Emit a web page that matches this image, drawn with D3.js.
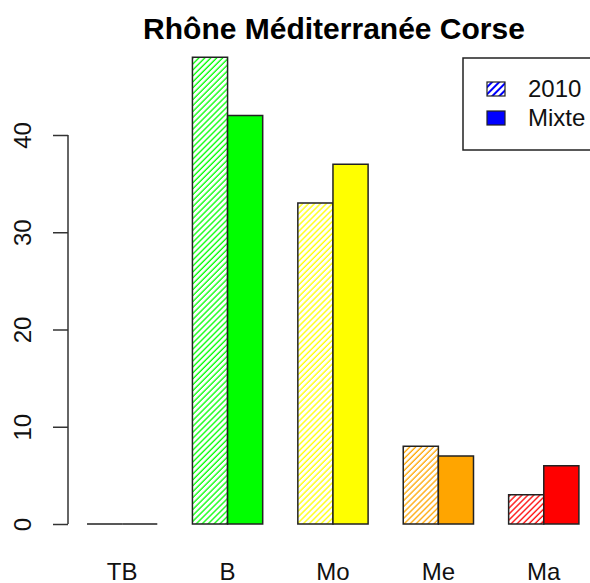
<!DOCTYPE html>
<html>
<head>
<meta charset="utf-8">
<script src="https://cdn.jsdelivr.net/npm/d3@7/dist/d3.min.js"></script>
<style>
  html, body { margin: 0; padding: 0; background: #fff; }
  svg { display: block; font-family: "Liberation Sans", Arial, Helvetica, sans-serif; }
</style>
</head>
<body>
<svg id="chart" width="590" height="583"></svg>
<script>
// Grouped bars per quality class: hatched = 2010, solid = Mixte
const categories = ["TB", "B", "Mo", "Me", "Ma"];
const values2010 = [0, 48, 33, 8, 3];
const valuesMixte = [0, 42, 37, 7, 6];
const barColors = ["#0000ff", "#00ff00", "#ffff00", "#ffa500", "#ff0000"];
const yTicks = [0, 10, 20, 30, 40];
const seriesNames = ["2010", "Mixte"];
const legendColor = "#0000ff";
const title = "Rhône Méditerranée Corse";

const svg = d3.select("#chart");
const defs = svg.append("defs");

// Bar positions in bar-width units: each group is 2 bars preceded by a 1-unit gap
const x = d3.scaleLinear().domain([0, 15]).range([51.9, 578.9]);
const y = d3.scaleLinear().domain([0, 40]).range([524, 135]);

function hatch(id, color, w, sw) {
  const p = defs.append("pattern")
    .attr("id", id)
    .attr("patternUnits", "userSpaceOnUse")
    .attr("width", w).attr("height", 10)
    .attr("patternTransform", "rotate(45)");
  p.append("line")
    .attr("x1", 1).attr("y1", 0).attr("x2", 1).attr("y2", 10)
    .attr("stroke", color).attr("stroke-width", sw);
}
barColors.forEach((c, i) => hatch("h" + i, c, 4.2, 1.3));
hatch("hl", legendColor, 5, 2);

// outline drawn as a path so zero-height bars still show as a line
function outline(x0, x1, v) {
  return `M${x0},${y(0)}H${x1}V${y(v)}H${x0}Z`;
}

// Title
svg.append("text")
  .attr("x", 334).attr("y", 39)
  .attr("text-anchor", "middle")
  .attr("font-weight", "bold")
  .attr("font-size", 30)
  .attr("fill", "#000")
  .text(title);

const groups = categories.map((c, i) => ({
  cat: c, i, v2010: values2010[i], vMixte: valuesMixte[i], start: 1 + i * 3
}));

const g = svg.append("g");
groups.forEach(d => {
  const a = x(d.start), b = x(d.start + 1), c = x(d.start + 2);
  // hatched 2010 bar
  g.append("rect")
    .attr("x", a).attr("width", b - a)
    .attr("y", y(d.v2010)).attr("height", y(0) - y(d.v2010))
    .attr("fill", "url(#h" + d.i + ")");
  g.append("path").attr("d", outline(a, b, d.v2010))
    .attr("fill", "none").attr("stroke", "#222").attr("stroke-width", 1.5);
  // solid Mixte bar
  g.append("path").attr("d", outline(b, c, d.vMixte))
    .attr("fill", barColors[d.i]).attr("stroke", "#222").attr("stroke-width", 1.5);
  // category label under group
  svg.append("text")
    .attr("x", b).attr("y", 580)
    .attr("text-anchor", "middle")
    .attr("font-size", 24)
    .attr("fill", "#111")
    .text(d.cat);
});

// Y axis
const yAxis = d3.axisLeft(y).tickValues(yTicks).tickSize(15).tickPadding(0);
const ax = svg.append("g").attr("transform", "translate(68,0)").call(yAxis);
ax.select(".domain").remove();
ax.append("line").attr("x1", 0).attr("x2", 0).attr("y1", y(40)).attr("y2", y(0))
  .attr("stroke", "#333").attr("stroke-width", 1.5);
ax.selectAll(".tick line").attr("stroke", "#333").attr("stroke-width", 1.5);
ax.selectAll(".tick text")
  .attr("font-size", 24)
  .attr("fill", "#111")
  .attr("text-anchor", "middle")
  .attr("transform", "translate(-45.5,0) rotate(-90)")
  .attr("x", 0).attr("y", 0).attr("dy", "0.35em");

// Legend
const lg = svg.append("g");
lg.append("rect").attr("x", 463).attr("y", 58).attr("width", 160).attr("height", 92)
  .attr("fill", "#fff").attr("stroke", "#222").attr("stroke-width", 1.5);
seriesNames.forEach((name, k) => {
  const cy = 89 + k * 29;
  lg.append("rect").attr("x", 487).attr("y", cy - 7).attr("width", 18).attr("height", 14)
    .attr("fill", k === 0 ? "url(#hl)" : legendColor)
    .attr("stroke", "#222").attr("stroke-width", 1.2);
  lg.append("text").attr("x", 528).attr("y", cy).attr("dy", "0.35em")
    .attr("font-size", 24).attr("fill", "#111").text(name);
});
</script>
</body>
</html>
